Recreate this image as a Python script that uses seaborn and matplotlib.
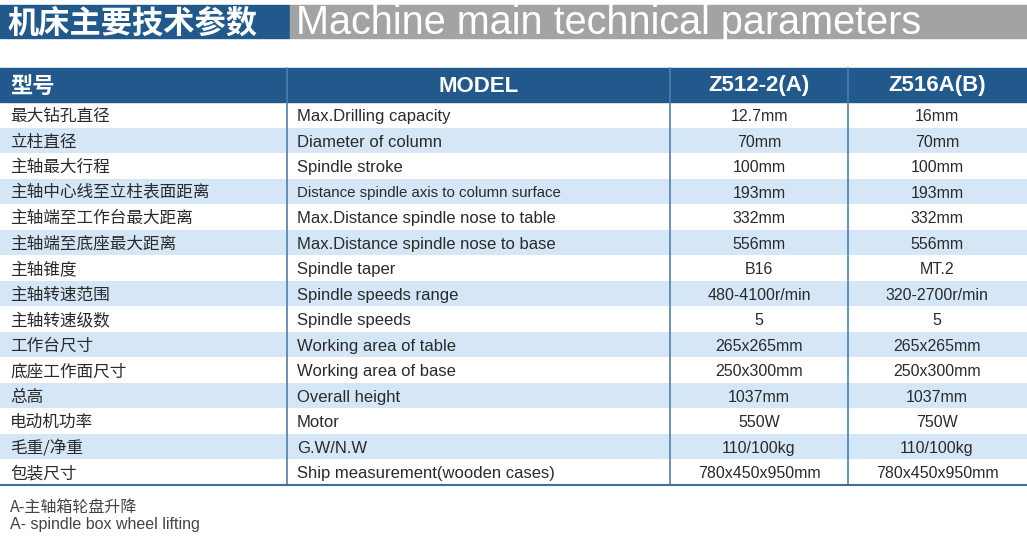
import numpy as np
import matplotlib
matplotlib.use("Agg")
import matplotlib.pyplot as plt
import seaborn as sns

sns.set_theme(style="white")
plt.rcParams['font.family'] = ['Noto Sans CJK SC', 'DejaVu Sans']

header = ["型号", "MODEL", "Z512-2(A)", "Z516A(B)"]
names_cn = ["最大钻孔直径", "立柱直径", "主轴最大行程", "主轴中心线至立柱表面距离", "主轴端至工作台最大距离",
            "主轴端至底座最大距离", "主轴锥度", "主轴转速范围", "主轴转速级数", "工作台尺寸",
            "底座工作面尺寸", "总高", "电动机功率", "毛重/净重", "包装尺寸"]
names_en = ["Max.Drilling capacity", "Diameter of column", "Spindle stroke",
            "Distance spindle axis to column surface", "Max.Distance spindle nose to table",
            "Max.Distance spindle nose to base", "Spindle taper", "Spindle speeds range",
            "Spindle speeds", "Working area of table", "Working area of base", "Overall height",
            "Motor", "G.W/N.W", "Ship measurement(wooden cases)"]
z512 = ["12.7mm", "70mm", "100mm", "193mm", "332mm", "556mm", "B16", "480-4100r/min", "5",
        "265x265mm", "250x300mm", "1037mm", "550W", "110/100kg", "780x450x950mm"]
z516 = ["16mm", "70mm", "100mm", "193mm", "332mm", "556mm", "MT.2", "320-2700r/min", "5",
        "265x265mm", "250x300mm", "1037mm", "750W", "110/100kg", "780x450x950mm"]

W, H = 1027, 541
blue = "#22598c"
stripe = "#d5e7f6"
fig = plt.figure(figsize=(W / 100, H / 100), dpi=100)

def fx(px): return px / W
def fy(py): return 1 - py / H

# title band
fig.patches.append(plt.Rectangle((0, fy(38)), fx(290), 33 / H, transform=fig.transFigure, color=blue))
fig.patches.append(plt.Rectangle((fx(290), fy(38)), fx(737), 33 / H, transform=fig.transFigure, color="#a3a3a3"))
fig.text(fx(7), fy(24), "机床主要技术参数", color="white", fontsize=22.5, fontweight="bold", va="center")
fig.text(fx(296), fy(23), "Machine main technical parameters", color="white", fontsize=28.5,
         va="center", family="Liberation Sans")

top, row_h, n = 102, 25.5, len(names_cn)
bottom = top + row_h * n
# header
fig.patches.append(plt.Rectangle((0, fy(top)), 1, (top - 68) / H, transform=fig.transFigure, color=blue))

# striped body via heatmap
ax = fig.add_axes([0, fy(bottom), 1, (bottom - top) / H])
stripes = np.array([[i % 2] for i in range(n)])
sns.heatmap(stripes, ax=ax, cmap=["white", stripe], cbar=False, xticklabels=False, yticklabels=False)
ax.set_axis_off()

cols = [0, 287, 670, 848, 1027]
for c in cols[1:-1]:
    fig.add_artist(plt.Line2D([fx(c), fx(c)], [fy(bottom), fy(68)], color="#4f7fae", lw=1.2))
fig.add_artist(plt.Line2D([0, 1], [fy(bottom), fy(bottom)], color="#3f6d9c", lw=1.5))

hy = fy((68 + top) / 2 + 1)
fig.text(fx(10), hy, header[0], color="white", fontsize=16, fontweight="bold", va="center")
for i in range(1, 4):
    fig.text(fx((cols[i] + cols[i + 1]) / 2), hy, header[i], color="white", fontsize=16,
             fontweight="bold", va="center", ha="center", family="Liberation Sans")

tc = "#2a2a2a"
for r in range(n):
    y = fy(top + row_h * (r + 0.5) + 2)
    fs = 10.8 if r == 3 else 12
    fig.text(fx(10), y, names_cn[r], fontsize=12, va="center", color=tc)
    fig.text(fx(297), y, names_en[r], fontsize=fs, va="center", color=tc, family="Liberation Sans")
    fig.text(fx(759), y, z512[r], fontsize=11.5, va="center", ha="center", color=tc, family="Liberation Sans")
    fig.text(fx(937), y, z516[r], fontsize=11.5, va="center", ha="center", color=tc, family="Liberation Sans")

fig.text(fx(10), fy(507), "A-主轴箱轮盘升降", fontsize=11.5, va="center", color="#444444")
fig.text(fx(10), fy(525), "A- spindle box wheel lifting", fontsize=11.5, va="center", color="#444444",
         family="Liberation Sans")

fig.savefig("out.png", dpi=100)
